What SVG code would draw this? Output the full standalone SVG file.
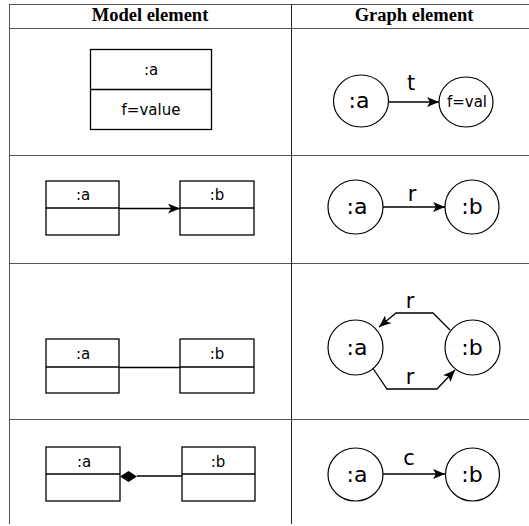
<svg xmlns="http://www.w3.org/2000/svg" width="529" height="526" viewBox="0 0 529 526">
<defs>
<style>
.grid{stroke:#555;stroke-width:1;fill:none}
.vgrid{stroke:#222;stroke-width:1;fill:none}
.hdr{font-family:"Liberation Serif","Times New Roman",serif;font-weight:bold;font-size:18.5px;fill:#000;text-anchor:middle}
.box{fill:#fff;stroke:#000;stroke-width:1.3}
.btxt{font-family:"DejaVu Sans",sans-serif;font-size:15px;fill:#000;text-anchor:middle}
.node{fill:#fff;stroke:#000;stroke-width:1.2}
.ntxt{font-family:"DejaVu Sans",sans-serif;font-size:22px;fill:#000;text-anchor:middle}
.ltxt{font-family:"DejaVu Sans",sans-serif;font-size:21px;fill:#000;text-anchor:middle}
.edge{stroke:#000;stroke-width:1.3;fill:none}
</style>
<marker id="arr" markerUnits="userSpaceOnUse" markerWidth="13" markerHeight="11" refX="12" refY="5" orient="auto" viewBox="0 0 13 11">
<path d="M0,0 L12,5 L0,10 L3,5 z" fill="#000"/>
</marker>
</defs>
<g id="table">
<line class="grid" x1="9" y1="4.5" x2="529" y2="4.5"/>
<line class="grid" x1="9" y1="28.5" x2="529" y2="28.5"/>
<line class="grid" x1="9" y1="155.5" x2="529" y2="155.5"/>
<line class="grid" x1="9" y1="263.5" x2="529" y2="263.5"/>
<line class="grid" x1="9" y1="419.5" x2="529" y2="419.5"/>
<line class="grid" x1="9.5" y1="4" x2="9.5" y2="524"/>
<line class="vgrid" x1="291.5" y1="4" x2="291.5" y2="524"/>
<text class="hdr" x="150" y="21">Model element</text>
<text class="hdr" x="414" y="21">Graph element</text>
</g>
<g id="connectors">
<line class="edge" x1="119" y1="208.5" x2="180" y2="208.5" marker-end="url(#arr)"/>
<line class="edge" x1="119" y1="367.5" x2="180" y2="367.5"/>
<line class="edge" x1="137" y1="476" x2="182" y2="476"/>
<polygon points="120,476.5 128.5,471 137,476.5 128.5,482" fill="#000"/>
<line class="edge" x1="388.5" y1="102" x2="439" y2="102" marker-end="url(#arr)"/>
<text class="ltxt" x="411" y="90">t</text>
<line class="edge" x1="383" y1="207" x2="445" y2="207" marker-end="url(#arr)"/>
<text class="ltxt" x="412" y="201">r</text>
<polyline class="edge" points="450,330 433,313 396,313 379,327" marker-end="url(#arr)"/>
<text class="ltxt" x="410" y="308">r</text>
<polyline class="edge" points="372,367 387,389 437,389 455,370" marker-end="url(#arr)"/>
<text class="ltxt" x="410" y="384">r</text>
<line class="edge" x1="383" y1="474" x2="445" y2="474" marker-end="url(#arr)"/>
<text class="ltxt" x="409" y="465">c</text>
</g>
<g id="m1-a">
<rect class="box" x="90.5" y="49.5" width="121" height="80"/>
<line class="box" x1="90.5" y1="89.5" x2="211.5" y2="89.5"/>
<text class="btxt" x="151" y="75">:a</text>
<text class="btxt" x="151" y="115">f=value</text>
</g>
<g id="g1-a">
<ellipse class="node" cx="361" cy="101" rx="27.5" ry="26"/>
<text class="ntxt" x="359" y="108">:a</text>
</g>
<g id="g1-f">
<ellipse class="node" cx="466" cy="102" rx="27" ry="25"/>
<text class="btxt" x="467" y="107">f=val</text>
</g>
<g id="m2-a">
<rect class="box" x="46" y="181" width="73" height="54"/>
<line class="box" x1="46" y1="208" x2="119" y2="208"/>
<text class="btxt" x="83" y="200">:a</text>
</g>
<g id="m2-b">
<rect class="box" x="180" y="181" width="74" height="54"/>
<line class="box" x1="180" y1="208" x2="254" y2="208"/>
<text class="btxt" x="217" y="200">:b</text>
</g>
<g id="g2-a">
<ellipse class="node" cx="355.5" cy="207" rx="27.5" ry="27"/>
<text class="ntxt" x="357" y="214">:a</text>
</g>
<g id="g2-b">
<ellipse class="node" cx="472" cy="207" rx="27" ry="27"/>
<text class="ntxt" x="472" y="214">:b</text>
</g>
<g id="m3-a">
<rect class="box" x="46" y="339" width="73" height="54"/>
<line class="box" x1="46" y1="367" x2="119" y2="367"/>
<text class="btxt" x="83" y="359">:a</text>
</g>
<g id="m3-b">
<rect class="box" x="180" y="339" width="74" height="54"/>
<line class="box" x1="180" y1="367" x2="254" y2="367"/>
<text class="btxt" x="217" y="359">:b</text>
</g>
<g id="g3-a">
<ellipse class="node" cx="355.5" cy="347.5" rx="27.5" ry="27.5"/>
<text class="ntxt" x="357" y="355">:a</text>
</g>
<g id="g3-b">
<ellipse class="node" cx="472.5" cy="347.5" rx="27.5" ry="27.5"/>
<text class="ntxt" x="472" y="355">:b</text>
</g>
<g id="m4-a">
<rect class="box" x="46" y="447" width="74" height="54"/>
<line class="box" x1="46" y1="474" x2="120" y2="474"/>
<text class="btxt" x="84" y="467">:a</text>
</g>
<g id="m4-b">
<rect class="box" x="182" y="447" width="73" height="54"/>
<line class="box" x1="182" y1="474" x2="255" y2="474"/>
<text class="btxt" x="218" y="467">:b</text>
</g>
<g id="g4-a">
<ellipse class="node" cx="355.5" cy="474.5" rx="27.5" ry="26.5"/>
<text class="ntxt" x="357" y="482">:a</text>
</g>
<g id="g4-b">
<ellipse class="node" cx="472.5" cy="474.5" rx="27" ry="26.5"/>
<text class="ntxt" x="472" y="482">:b</text>
</g>
</svg>
